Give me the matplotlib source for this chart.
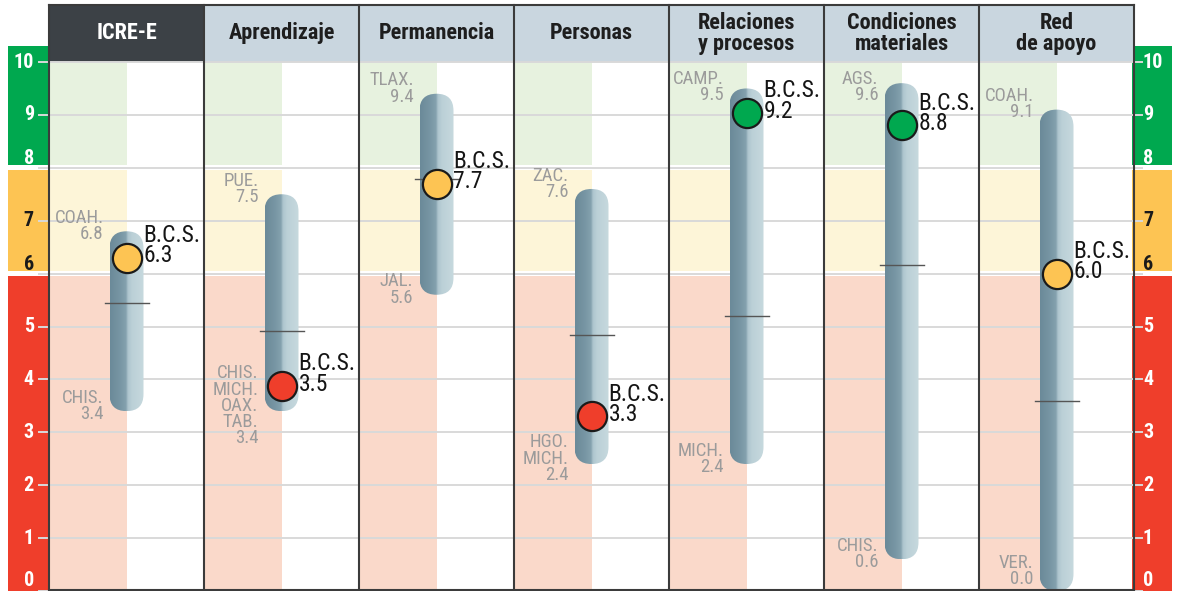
import matplotlib
matplotlib.use("Agg")
import matplotlib.pyplot as plt
import numpy as np
from matplotlib import font_manager
from matplotlib.patches import Rectangle, FancyBboxPatch
from matplotlib.colors import LinearSegmentedColormap

# data
columns = ["ICRE-E", "Aprendizaje", "Permanencia", "Personas",
           "Relaciones\ny procesos", "Condiciones\nmateriales", "Red\nde apoyo"]
max_vals = [6.8, 7.5, 9.4, 7.6, 9.5, 9.6, 9.1]
max_states = ["COAH.", "PUE.", "TLAX.", "ZAC.", "CAMP.", "AGS.", "COAH."]
min_vals = [3.4, 3.4, 5.6, 2.4, 2.4, 0.6, 0.0]
min_states = ["CHIS.", "CHIS.\nMICH.\nOAX.\nTAB.", "JAL.", "HGO.\nMICH.", "MICH.", "CHIS.", "VER."]
bcs_vals = [6.3, 3.5, 7.7, 3.3, 9.2, 8.8, 6.0]
mean_vals = [5.45, 4.92, 7.79, 4.83, 5.20, 6.16, 3.60]
ticks = list(range(0, 11))

# score bands: (low, high, strong colour, light colour, tick label colour)
bands = [
    (0, 6, "#ef3e2b", "#fad9ca", "white"),
    (6, 8, "#fdc453", "#fdf5d8", "#1a1a1a"),
    (8, 10, "#00a84f", "#e7f2df", "white"),
]

available = {f.name for f in font_manager.fontManager.ttflist}
FONT = "DejaVu Sans"
for cand in ["Roboto Condensed", "Liberation Sans Narrow", "Liberation Sans"]:
    if cand in available:
        FONT = cand
        break
plt.rcParams["font.family"] = [FONT, "DejaVu Sans"]


def band_of(v):
    for b in bands:
        if b[0] <= v < b[1]:
            return b
    return bands[-1]


fig = plt.figure(figsize=(11.78, 5.91), dpi=100)
ax = fig.add_axes([0, 0, 1, 1])

px_x = 1 / 155.0   # one pixel in column units
px_y = 1 / 52.9    # one pixel in score units
head_top = 11.08
side_top = 10.3
gap = 0.05

# side colour scales and column backgrounds
for lo, hi, strong, light, _ in bands:
    lo_a = lo + gap if lo > 0 else lo
    hi_a = hi - gap if hi < 10 else hi
    hi_side = hi - gap if hi < 10 else side_top
    ax.add_patch(Rectangle((-41 * px_x, lo_a), 41 * px_x, hi_side - lo_a,
                           facecolor=strong, edgecolor="none", zorder=1))
    ax.add_patch(Rectangle((7 - 2 * px_x, lo_a), 40 * px_x, hi_side - lo_a,
                           facecolor=strong, edgecolor="none", zorder=1))
    for i in range(len(columns)):
        ax.add_patch(Rectangle((i, lo_a), 0.5, hi_a - lo_a,
                               facecolor=light, edgecolor="none", zorder=1))

# gridlines and tick labels
for t in ticks:
    ax.plot([-10 * px_x, 7 + 8 * px_x], [t, t], color="#d9d9d9", lw=1.4, zorder=2)
    lab_y = t + 0.18 if t in (6, 8) else t
    if t == 0:
        lab_y = 0.2
    col = band_of(t)[4]
    ax.text(-15 * px_x, lab_y, str(t), ha="right", va="center", fontsize=14.5,
            fontweight="bold", color=col, zorder=7)
    ax.text(7 + 9 * px_x, lab_y, str(t), ha="left", va="center", fontsize=14.5,
            fontweight="bold", color=col, zorder=7)

# headers
for i, name in enumerate(columns):
    dark = i == 0
    ax.add_patch(Rectangle((i, 10), 1, head_top - 10,
                           facecolor="#3c4146" if dark else "#c9d6df",
                           edgecolor="none", zorder=1))
    ax.text(i + 0.5, 10.54, name, ha="center", va="center", fontsize=16,
            fontweight="bold", color="white" if dark else "#1e1e1e",
            linespacing=0.9, zorder=7)

# pills
pill_cmap = LinearSegmentedColormap.from_list("pill", [
    (0.0, "#6b8a99"), (0.3, "#7896a4"), (0.47, "#84a1ae"),
    (0.53, "#adc5ce"), (0.65, "#bbd0d7"), (1.0, "#c7d9de")])
grad = np.linspace(0, 1, 120).reshape(1, -1)
w = 34 * px_x
r_y = 17 * px_y

for i in range(len(columns)):
    cx = i + 0.5
    lo, hi = min_vals[i], max_vals[i]
    shape = FancyBboxPatch((cx - w / 2, lo), w, hi - lo,
                           boxstyle=f"round,pad=0,rounding_size={w / 2}",
                           mutation_aspect=r_y / (w / 2),
                           facecolor="none", edgecolor="none")
    ax.add_patch(shape)
    im = ax.imshow(grad, extent=[cx - w / 2, cx + w / 2, lo, hi], cmap=pill_cmap,
                   aspect="auto", interpolation="bilinear", zorder=3)
    im.set_clip_path(shape)

    # national mean tick
    m = mean_vals[i]
    ax.plot([cx - 22 * px_x, cx + 22 * px_x], [m, m], color="#555555", lw=1.0, zorder=5)

    # B.C.S. marker kept inside the pill
    b = bcs_vals[i]
    my = min(max(b, lo + 0.47), hi - 0.47)
    ax.plot(cx, my, "o", ms=21, mfc=band_of(b)[2], mec="#1a1a1a", mew=1.6, zorder=6)
    ax.text(cx + 17 * px_x, my + 0.23, f"B.C.S.\n{b:.1f}", ha="left", va="center",
            fontsize=17, color="#151515", linespacing=0.86, zorder=7)

    # state labels for max and min
    ax.text(cx - 23 * px_x, min(max(hi + 0.1, 0.38), 9.53),
            f"{max_states[i]}\n{hi:.1f}", ha="right", va="center", fontsize=13.5,
            color="#9b9b9b", linespacing=0.88, zorder=7)
    ax.text(cx - 23 * px_x, min(max(lo + 0.1, 0.38), 9.53),
            f"{min_states[i]}\n{lo:.1f}", ha="right", va="center", fontsize=13.5,
            color="#9b9b9b", linespacing=0.88, zorder=7)

# column borders
for i in range(len(columns) + 1):
    ax.plot([i, i], [0, head_top], color="#3b3b3b", lw=1.5, zorder=8)
ax.plot([0, 7], [head_top, head_top], color="#3b3b3b", lw=1.5, zorder=8)
ax.plot([0, 7], [0.02, 0.02], color="#3b3b3b", lw=1.5, zorder=8)

ax.set_xlim(-49 * px_x, (1178 - 49) * px_x)
ax.set_ylim(0, 591 * px_y)
ax.axis("off")

fig.savefig("out.png", dpi=100)
